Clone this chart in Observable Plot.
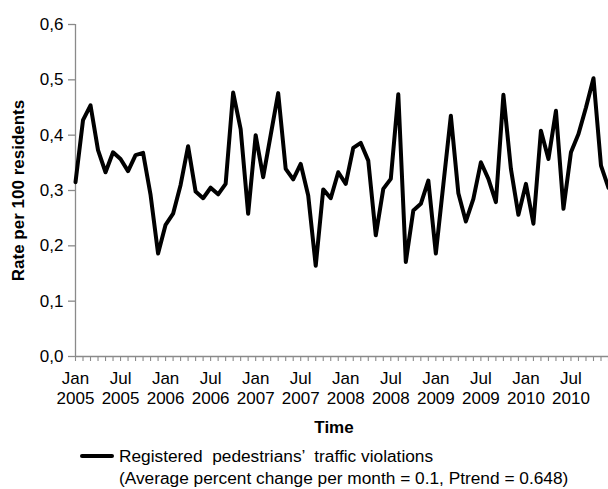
<!DOCTYPE html>
<html>
<head>
<meta charset="utf-8">
<script src="https://cdn.jsdelivr.net/npm/d3@7"></script>
<script src="https://cdn.jsdelivr.net/npm/@observablehq/plot@0.6"></script>
<style>
  html, body { margin: 0; padding: 0; background: #fff; }
  body { width: 608px; height: 489px; overflow: hidden; position: relative; font-family: "Liberation Sans", Arial, sans-serif; }
  #chart svg { display: block; }
  #legend { position: absolute; left: 0; top: 444px; width: 608px; font-size: 17.3px; color: #000; }
  #legend .row { position: absolute; left: 119px; white-space: pre; line-height: 20px; }
  #legend .swatch { position: absolute; left: 80px; top: 10px; width: 34px; height: 4px; background: #000; border-radius: 2px; }
</style>
</head>
<body>
<div id="chart"></div>
<div id="legend">
  <div class="swatch"></div>
  <div class="row" style="top:2px">Registered  pedestrians’  traffic violations</div>
  <div class="row" style="top:24px">(Average percent change per month = 0.1, Ptrend = 0.648)</div>
</div>
<script>
// Monthly rate per 100 residents, Jan 2005 .. Dec 2010
const rates = [
  0.315, 0.427, 0.454, 0.373, 0.333, 0.369, 0.357, 0.335, 0.364, 0.368, 0.292, 0.186,
  0.238, 0.258, 0.310, 0.380, 0.298, 0.286, 0.305, 0.293, 0.312, 0.477, 0.411, 0.258,
  0.400, 0.324, 0.400, 0.476, 0.339, 0.320, 0.348, 0.291, 0.164, 0.302, 0.286, 0.333,
  0.312, 0.377, 0.386, 0.354, 0.219, 0.303, 0.321, 0.474, 0.171, 0.264, 0.276, 0.318,
  0.186, 0.311, 0.435, 0.295, 0.244, 0.285, 0.351, 0.321, 0.279, 0.473, 0.339, 0.256,
  0.312, 0.240, 0.408, 0.357, 0.444, 0.267, 0.369, 0.402, 0.450, 0.503, 0.345, 0.305
];
const xTickLabels = [
  "Jan\n2005", "Jul\n2005", "Jan\n2006", "Jul\n2006", "Jan\n2007", "Jul\n2007",
  "Jan\n2008", "Jul\n2008", "Jan\n2009", "Jul\n2009", "Jan\n2010", "Jul\n2010"
];
const yTicks = [0, 0.1, 0.2, 0.3, 0.4, 0.5, 0.6];
const yTickLabels = ["0,0", "0,1", "0,2", "0,3", "0,4", "0,5", "0,6"];
const yTitle = "Rate per 100 residents";
const xTitle = "Time";

const data = rates.map((v, i) => ({month: i, rate: v}));
const monthTicks = rates.map((v, i) => i);
const labelTicks = xTickLabels.map((d, i) => i * 6);

const chart = Plot.plot({
  width: 608,
  height: 442,
  marginLeft: 75,
  marginRight: 0,
  marginTop: 24,
  marginBottom: 86,
  style: {fontFamily: "'Liberation Sans', Arial, sans-serif", background: "#fff"},
  x: {domain: [0, rates.length - 1], axis: null},
  y: {domain: [0, 0.6], axis: null},
  marks: [
    Plot.ruleX([0], {y1: 0, y2: 0.6, stroke: "#8a8a8a", strokeWidth: 1.3}),
    Plot.ruleY([0], {stroke: "#8a8a8a", strokeWidth: 1.3}),
    Plot.axisY({ticks: yTicks, tickSize: 7, tickPadding: 5, tickFormat: (d, i) => yTickLabels[i], fontSize: 17, stroke: "#8a8a8a", strokeWidth: 1.3, fill: "#000", label: null}),
    Plot.axisX({ticks: monthTicks, tickSize: 5, tickFormat: () => "", stroke: "#8a8a8a", strokeWidth: 1.1, label: null}),
    Plot.axisX({ticks: labelTicks, tickSize: 0, tickPadding: 14, tickFormat: (d) => xTickLabels[d / 6], fontSize: 17, lineHeight: 1.15, fill: "#000", label: null}),
    Plot.text([yTitle], {frameAnchor: "left", textAnchor: "middle", dx: -57, rotate: -90, fontWeight: "bold", fontSize: 17, fill: "#000"}),
    Plot.text([xTitle], {frameAnchor: "bottom", dx: -8, dy: 76, fontWeight: "bold", fontSize: 17, fill: "#000"}),
    Plot.line(data, {x: "month", y: "rate", stroke: "#000", strokeWidth: 4, strokeLinejoin: "round", strokeLinecap: "round"})
  ]
});
document.getElementById("chart").appendChild(chart);
</script>
</body>
</html>
